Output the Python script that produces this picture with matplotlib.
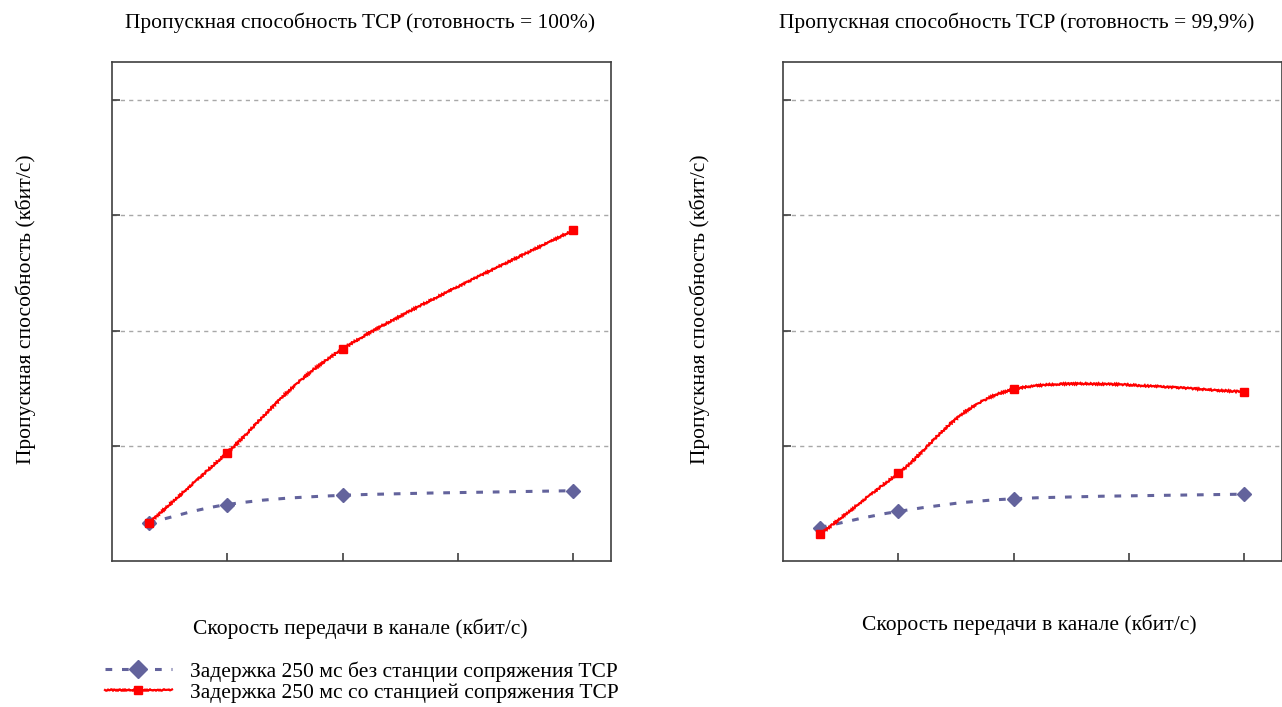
import matplotlib
matplotlib.use("Agg")
import matplotlib.pyplot as plt
from matplotlib.path import Path
from matplotlib.patches import PathPatch
from matplotlib.lines import Line2D
import numpy as np

plt.rcParams['font.family'] = ['Liberation Serif', 'DejaVu Serif']

# Channel rate positions (relative units, ticks at 1..4)
rate = [0.32, 1.0, 2.0, 4.0]

# Throughput, availability 100 %
no_gw_100 = [0.33, 0.49, 0.57, 0.61]
gw_100 = [0.33, 0.94, 1.84, 2.87]

# Throughput, availability 99.9 %
no_gw_999 = [0.29, 0.43, 0.54, 0.58]
gw_999 = [0.23, 0.76, 1.49, 1.47]

titles = ["Пропускная способность TCP (готовность = 100%)",
          "Пропускная способность TCP (готовность = 99,9%)"]
ylabel = "Пропускная способность (кбит/с)"
xlabel = "Скорость передачи в канале (кбит/с)"
legend_labels = ["Задержка 250 мс без станции сопряжения TCP",
                 "Задержка 250 мс со станцией сопряжения TCP"]

BLUE = "#63639c"
RED = "#ff0000"
FS = 15.5


def smooth_path(x, y):
    """Cubic Bezier path through the points (spreadsheet-style smoothing)."""
    pts = np.column_stack([x, y]).astype(float)
    n = len(pts)
    verts = [pts[0]]
    codes = [Path.MOVETO]
    for i in range(n - 1):
        p0 = pts[max(i - 1, 0)]
        p1 = pts[i]
        p2 = pts[i + 1]
        p3 = pts[min(i + 2, n - 1)]
        c1 = p1 + (p2 - p0) / 6.0
        c2 = p2 - (p3 - p1) / 6.0
        verts += [c1, c2, p2]
        codes += [Path.CURVE4] * 3
    return Path(verts, codes)


def draw_panel(ax, blue_vals, red_vals):
    ax.set_xlim(0, 4.33)
    ax.set_ylim(0, 4.33)
    ax.set_xticks([1, 2, 3, 4])
    ax.set_yticks([1, 2, 3, 4])
    ax.set_xticklabels([])
    ax.set_yticklabels([])
    ax.tick_params(axis='both', direction='in', length=6, width=1.2,
                   color="#404040")
    ax.tick_params(axis='y', right=False)
    for sp in ax.spines.values():
        sp.set_color("#404040")
        sp.set_linewidth(1.2)
    ax.yaxis.grid(True, color="#a8a8a8", linestyle=(0, (3, 3)), linewidth=1.0)
    ax.set_axisbelow(True)

    # no-gateway series: dashed smoothed line with diamond markers
    bp = PathPatch(smooth_path(rate, blue_vals), fill=False, edgecolor=BLUE,
                   linewidth=2.2, linestyle=(0, (2.2, 3.2)), zorder=3)
    ax.add_patch(bp)
    ax.plot(rate, blue_vals, linestyle='none', marker='D', markersize=7.5,
            color=BLUE, zorder=4)

    # gateway series: textured smoothed line with square markers
    rp = PathPatch(smooth_path(rate, red_vals), fill=False, edgecolor=RED,
                   linewidth=1.6, zorder=5)
    rp.set_sketch_params(scale=0.8, length=3, randomness=2)
    ax.add_patch(rp)
    ax.plot(rate, red_vals, linestyle='none', marker='s', markersize=5.5,
            color=RED, zorder=6)


fig = plt.figure(figsize=(12.82, 7.07), dpi=100)
ax1 = fig.add_axes([0.0874, 0.2065, 0.3892, 0.7058])
ax2 = fig.add_axes([0.6108, 0.2065, 0.3892, 0.7058])

draw_panel(ax1, no_gw_100, gw_100)
draw_panel(ax2, no_gw_999, gw_999)

fig.text(0.281, 0.968, titles[0], ha='center', va='center', fontsize=FS)
fig.text(0.793, 0.968, titles[1], ha='center', va='center', fontsize=FS)

fig.text(0.020, 0.562, ylabel, rotation=90, ha='center', va='center', fontsize=FS)
fig.text(0.546, 0.562, ylabel, rotation=90, ha='center', va='center', fontsize=FS)

fig.text(0.281, 0.110, xlabel, ha='center', va='center', fontsize=FS)
fig.text(0.803, 0.117, xlabel, ha='center', va='center', fontsize=FS)

h_blue = Line2D([], [], color=BLUE, linewidth=2.2, linestyle=(0, (2.2, 3.2)),
                marker='D', markersize=9.5)
h_red = Line2D([], [], color=RED, linewidth=1.6, marker='s', markersize=6)
h_red.set_sketch_params(scale=0.8, length=3, randomness=2)
fig.legend([h_blue, h_red], legend_labels, loc='upper left',
           bbox_to_anchor=(0.082, 0.065), frameon=False, fontsize=FS,
           handlelength=3.1, handletextpad=0.85, labelspacing=0.06,
           borderaxespad=0.0, borderpad=0.0)

fig.savefig("out.png", dpi=100)
